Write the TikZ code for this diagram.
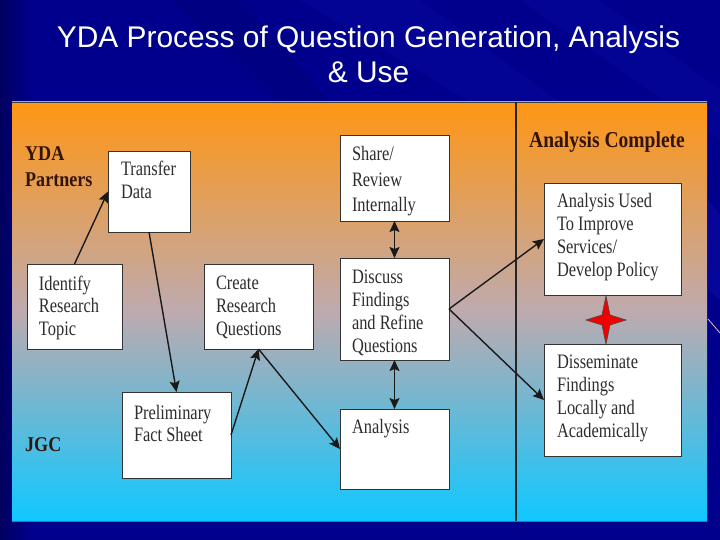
\documentclass[tikz,border=0pt]{standalone}
\usepackage{fontspec}
\usetikzlibrary{arrows.meta}
\setmainfont{Liberation Serif}
\newfontfamily\boxfont[FakeStretch=0.8]{Liberation Serif}
\newfontfamily\headfont[FakeStretch=0.86]{Liberation Serif}
\newfontfamily\titlefont{Liberation Sans}
\definecolor{slidebg}{RGB}{0,0,140}
\definecolor{slidedark}{RGB}{0,0,95}
\definecolor{slidelight}{RGB}{20,20,185}
\definecolor{paneltop}{RGB}{255,150,20}
\definecolor{panelmid}{RGB}{190,170,175}
\definecolor{panelbot}{RGB}{15,200,255}
\definecolor{headtext}{RGB}{50,20,10}
\definecolor{bodytext}{RGB}{45,45,45}
\newcommand{\boxtxt}[5]{\begin{minipage}[c][#2pt][t]{#1pt}\leftskip=#3pt\baselineskip=#4pt\lineskiplimit=-20pt\boxfont\fontsize{20.5}{#4}\selectfont\color{bodytext}\setlength{\baselineskip}{#4pt}#5\end{minipage}}
\newcommand{\fl}[1]{\rule{0pt}{#1pt}}
\tikzset{
  x=1pt, y=-1pt,
  stepbox/.style={draw=black!80, line width=0.8pt, fill=white, inner sep=0pt, outer sep=0pt, anchor=north west},
  head/.style={inner sep=0pt, anchor=base west, align=left, text=headtext, font=\headfont\bfseries\fontsize{21}{26}\selectfont},
  conn/.style={draw=black!90, line width=1.4pt, -{Stealth[length=11pt,width=10pt,inset=2pt]}},
  biconn/.style={draw=black!90, line width=1.4pt, {Stealth[length=11pt,width=10pt,inset=2pt]}-{Stealth[length=11pt,width=10pt,inset=2pt]}},
}
\begin{document}
\begin{tikzpicture}
\useasboundingbox (0,0) rectangle (720,540);
% slide background
\fill[slidebg] (0,0) rectangle (720,540);
\shade[left color=slidedark, right color=slidebg] (0,0) rectangle (30,540);
\fill[slidelight, opacity=.18] (300,0) -- (420,0) -- (560,102) -- (470,102) -- cycle;
\fill[slidelight, opacity=.18] (520,0) -- (600,0) -- (720,90) -- (720,140) -- cycle;
\fill[slidedark, opacity=.18] (170,0) -- (240,0) -- (330,102) -- (280,102) -- cycle;
\fill[slidelight, opacity=.3] (708,200) -- (720,215) -- (720,300) -- (708,290) -- cycle;
\draw[draw=pink!80, line width=0.7pt] (708,319) -- (720,333);
% title
\node[inner sep=0pt, anchor=base, text=white, font=\titlefont\fontsize{29.9}{35}\selectfont] (title1) at (368.5,48) {YDA Process of Question Generation, Analysis};
\node[inner sep=0pt, anchor=base, text=white, font=\titlefont\fontsize{29.9}{35}\selectfont] (title2) at (368.5,83) {\& Use};
% panel
\shade[top color=paneltop, bottom color=panelbot, middle color=panelmid] (12,102) rectangle (707,521);
\draw[black!75, line width=0.8pt] (12,102) -- (707,102);
\draw[black!60, line width=0.8pt] (12,521) -- (707,521);
\draw[black!85, line width=1.4pt] (516,102) -- (516,521);
% labels
\node[head] (yda) at (25,187) {YDA\\Partners};
\node[head] (jgc) at (25,451) {JGC};
\node[head, font=\headfont\bfseries\fontsize{22.7}{24}\selectfont] (complete) at (529,148) {Analysis Complete};
% boxes
\node[stepbox] (transfer) at (108,151) {\boxtxt{82}{81}{13}{23}{\fl{25}Transfer\\Data}};
\node[stepbox] (identify) at (27,264) {\boxtxt{95}{85}{12}{22.5}{\fl{26}Identify\\Research\\Topic}};
\node[stepbox] (create) at (204,264) {\boxtxt{109}{85}{12}{23}{\fl{25}Create\\Research\\Questions}};
\node[stepbox] (share) at (340,135) {\boxtxt{109}{86}{12}{25.5}{\fl{26}Share/\\Review\\Internally}};
\node[stepbox] (discuss) at (340,258) {\boxtxt{109}{102}{12}{23}{\fl{25}Discuss\\Findings\\and Refine\\Questions}};
\node[stepbox] (prelim) at (122,392) {\boxtxt{109}{86}{12}{22}{\fl{27}Preliminary\\Fact Sheet}};
\node[stepbox] (analysis) at (340,409) {\boxtxt{109}{80}{12}{23}{\fl{24}Analysis}};
\node[stepbox] (used) at (544,183) {\boxtxt{137}{112}{13}{23}{\fl{24}Analysis Used\\To Improve\\Services/\\Develop Policy}};
\node[stepbox] (dissem) at (544,344) {\boxtxt{137}{112}{13}{23.3}{\fl{24}Disseminate\\Findings\\Locally and\\Academically}};
% connectors
\draw[conn] (identify.north) -- (transfer.west);
\draw[conn] (transfer.south) -- (prelim.north);
\draw[conn] (prelim.east) -- (create.south);
\draw[conn] (create.south) -- (analysis.west);
\draw[biconn] (share.south) -- (discuss.north);
\draw[biconn] (discuss.south) -- (analysis.north);
\draw[conn] (discuss.east) -- (used.west);
\draw[conn] (discuss.east) -- (dissem.west);
% star
\fill[red!95!black, draw=black!70, line width=0.7pt] (606,296) -- (610,315) -- (626,320) -- (610,325) -- (606,344) -- (602,325) -- (586,320) -- (602,315) -- cycle;
\end{tikzpicture}
\end{document}
